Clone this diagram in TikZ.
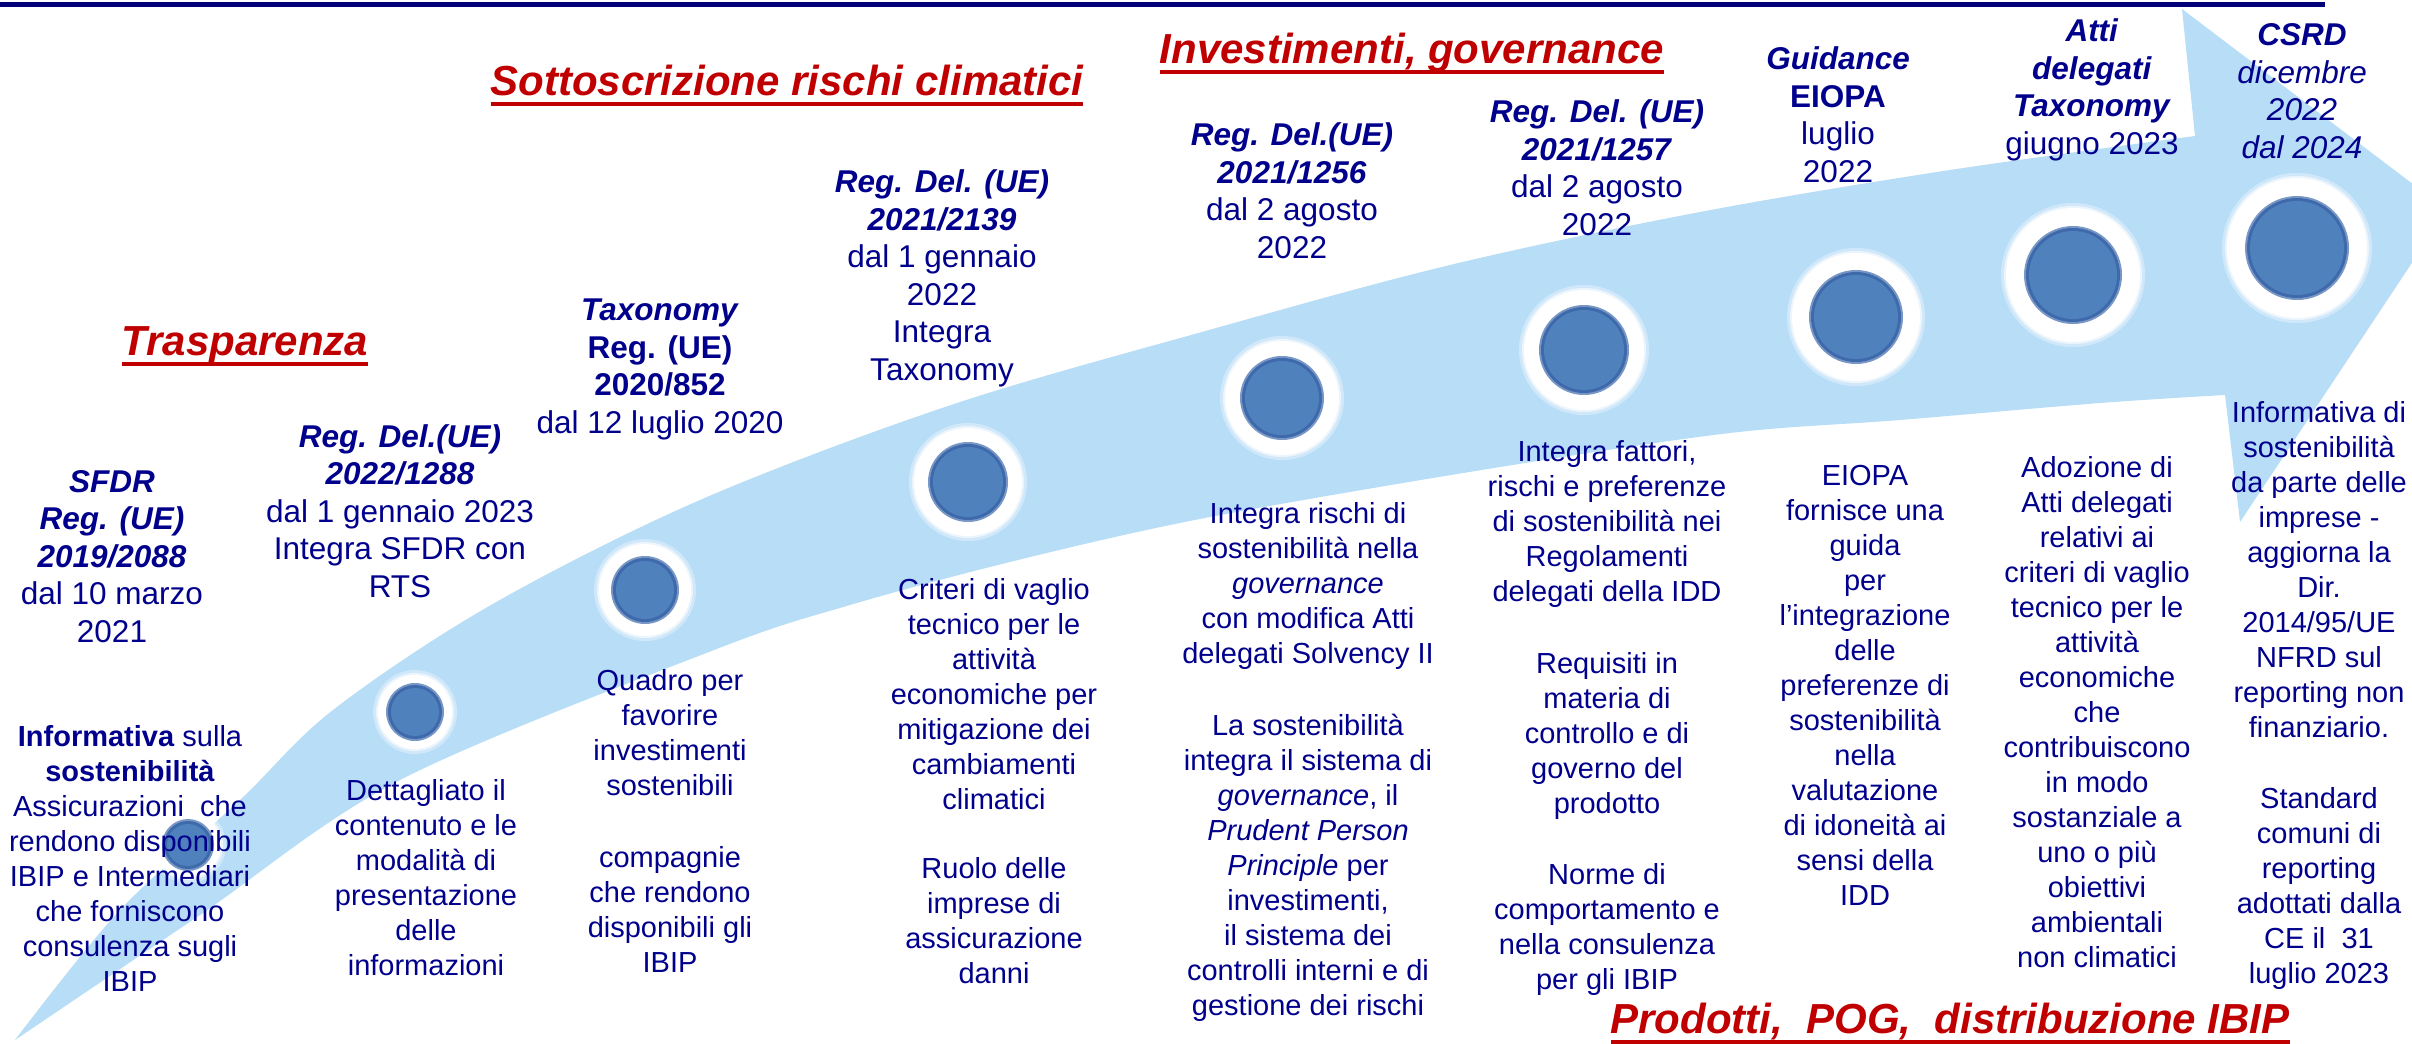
\documentclass[tikz,border=0pt]{standalone}
\usepackage{fontspec}
\setmainfont{Liberation Sans}
\definecolor{txtblue}{RGB}{0,0,140}
\definecolor{ttlred}{RGB}{192,0,0}
\definecolor{bandblue}{RGB}{184,221,247}
\definecolor{diskc}{RGB}{79,129,189}
\definecolor{diskrim}{RGB}{62,106,172}
\definecolor{linenavy}{RGB}{0,0,120}
\newcommand\myul[1]{\setbox0\hbox{#1}\rlap{\rule[-11pt]{\wd0}{4pt}}\box0}
\newcommand\bi[1]{\textbf{\textit{#1}}}
\newcommand\tdot[4]{%
  \fill[white,opacity=.35] (#1,#2) circle[radius={(#4+5)*1pt}];
  \fill[white,opacity=.6] (#1,#2) circle[radius={(#4+2)*1pt}];
  \fill[white] (#1,#2) circle[radius={#4*1pt}];
  \fill[diskrim!70!white] (#1,#2) circle[radius={(#3+2)*1pt}];
  \fill[diskrim] (#1,#2) circle[radius={#3*1pt}];
  \fill[diskc] (#1,#2) circle[radius={(#3-3)*1pt}];
}
\begin{document}
\begin{tikzpicture}[x=1pt,y=-1pt,
  hdr/.style={font=\fontsize{31.5}{37.5}\selectfont, text=txtblue, align=center, anchor=base, inner sep=0pt},
  bdy/.style={font=\fontsize{29}{35}\selectfont, text=txtblue, align=center, anchor=base, inner sep=0pt},
  ttl/.style={font=\fontsize{42}{50}\selectfont\bfseries\itshape, text=ttlred, anchor=base, inner sep=0pt}]
\useasboundingbox (0,0) rectangle (2412,1044);
\fill[white] (0,0) rectangle (2412,1044);

% big curved arrow
\fill[bandblue] plot[smooth, tension=0.55] coordinates {(15,1040) (120,910) (240,800) (333,710) (491,605) (700,500) (951,405) (1209,330) (1450,265) (1700,212) (1950,170) (2195,136)}
  -- (2182,9) -- (2447,210) -- (2240,522) -- (2225,395)
  -- plot[smooth, tension=0.55] coordinates {(2225,395) (2100,403) (1900,420) (1730,433) (1500,467) (1210,517) (1018,560) (850,605) (714,650) (400,780) (200,915) (15,1040)} -- cycle;

% top rule
\fill[linenavy] (0,1.5) rectangle (2325,7);

% milestones
\tdot{188}{845}{24}{33}
\tdot{415}{712}{27}{37}
\tdot{645}{590}{32}{46}
\tdot{968}{482}{38}{54}
\tdot{1282}{398}{40}{57}
\tdot{1584}{350}{43}{60}
\tdot{1856}{317}{45}{64}
\tdot{2073}{275}{47}{67}
\tdot{2297}{248}{50}{70}

% titles
\node[ttl] (t1) at (245,355) {\myul{Trasparenza}};
\node[ttl] (t2) at (787,95) {\myul{Sottoscrizione rischi climatici}};
\node[ttl] (t3) at (1412,63) {\myul{Investimenti, governance}};
\node[ttl] (t4) at (1950,1033) {\myul{Prodotti,\ \ POG,\ \ distribuzione IBIP}};

% headers (anchored at the baseline of their last line)
\node[hdr] (h1) at (112,642) {\bi{SFDR}\\\bi{Reg. (UE)}\\\bi{2019/2088}\\dal 10 marzo\\2021};
\node[hdr] (h2) at (400,597) {\bi{Reg. Del.(UE)}\\\bi{2022/1288}\\dal 1 gennaio 2023\\Integra SFDR con\\RTS};
\node[hdr] (h3) at (660,433) {\bi{Taxonomy}\\\textbf{Reg. (UE)}\\\textbf{2020/852}\\dal 12 luglio 2020};
\node[hdr] (h4) at (942,380) {\bi{Reg. Del. (UE)}\\\bi{2021/2139}\\dal 1 gennaio\\2022\\Integra\\Taxonomy};
\node[hdr] (h5) at (1292,258) {\bi{Reg. Del.(UE)}\\\bi{2021/1256}\\dal 2 agosto\\2022};
\node[hdr] (h6) at (1597,235) {\bi{Reg. Del. (UE)}\\\bi{2021/1257}\\dal 2 agosto\\2022};
\node[hdr] (h7) at (1838,182) {\bi{Guidance}\\\textbf{EIOPA}\\luglio\\2022};
\node[hdr] (h8) at (2092,154) {\bi{Atti}\\\bi{delegati}\\\bi{Taxonomy}\\giugno 2023};
\node[hdr] (h9) at (2302,158) {\bi{CSRD}\\\textit{dicembre}\\\textit{2022}\\\textit{dal 2024}};

% bodies (anchored at the baseline of their last line)
\node[bdy] (b1) at (130,991) {\textbf{Informativa} sulla\\\textbf{sostenibilità}\\Assicurazioni\ \ che\\rendono disponibili\\IBIP e Intermediari\\che forniscono\\consulenza sugli\\IBIP};
\node[bdy] (b2) at (426,975) {Dettagliato il\\contenuto e le\\modalità di\\presentazione\\delle\\informazioni};
\node[bdy] (b3) at (670,972) {Quadro per\\favorire\\investimenti\\sostenibili\\[37pt]compagnie\\che rendono\\disponibili gli\\IBIP};
\node[bdy] (b4) at (994,983) {Criteri di vaglio\\tecnico per le\\attività\\economiche per\\mitigazione dei\\cambiamenti\\climatici\\[34pt]Ruolo delle\\imprese di\\assicurazione\\danni};
\node[bdy] (b5) at (1308,1015) {Integra rischi di\\sostenibilità nella\\\textit{governance}\\con modifica Atti\\delegati Solvency II\\[37pt]La sostenibilità\\integra il sistema di\\\textit{governance}, il\\\textit{Prudent Person}\\\textit{Principle} per\\investimenti,\\il sistema dei\\controlli interni e di\\gestione dei rischi};
\node[bdy] (b6) at (1607,989) {Integra fattori,\\rischi e preferenze\\di sostenibilità nei\\Regolamenti\\delegati della IDD\\[37pt]Requisiti in\\materia di\\controllo e di\\governo del\\prodotto\\[36pt]Norme di\\comportamento e\\nella consulenza\\per gli IBIP};
\node[bdy] (b7) at (1865,905) {EIOPA\\fornisce una\\guida\\per\\l’integrazione\\delle\\preferenze di\\sostenibilità\\nella\\valutazione\\di idoneità ai\\sensi della\\IDD};
\node[bdy] (b8) at (2097,967) {Adozione di\\Atti delegati\\relativi ai\\criteri di vaglio\\tecnico per le\\attività\\economiche\\che\\contribuiscono\\in modo\\sostanziale a\\uno o più\\obiettivi\\ambientali\\non climatici};
\node[bdy] (b9) at (2319,983) {Informativa di\\sostenibilità\\da parte delle\\imprese -\\aggiorna la\\Dir.\\2014/95/UE\\NFRD sul\\reporting non\\finanziario.\\[36pt]Standard\\comuni di\\reporting\\adottati dalla\\CE il\ \ 31\\luglio 2023};
\end{tikzpicture}
\end{document}
